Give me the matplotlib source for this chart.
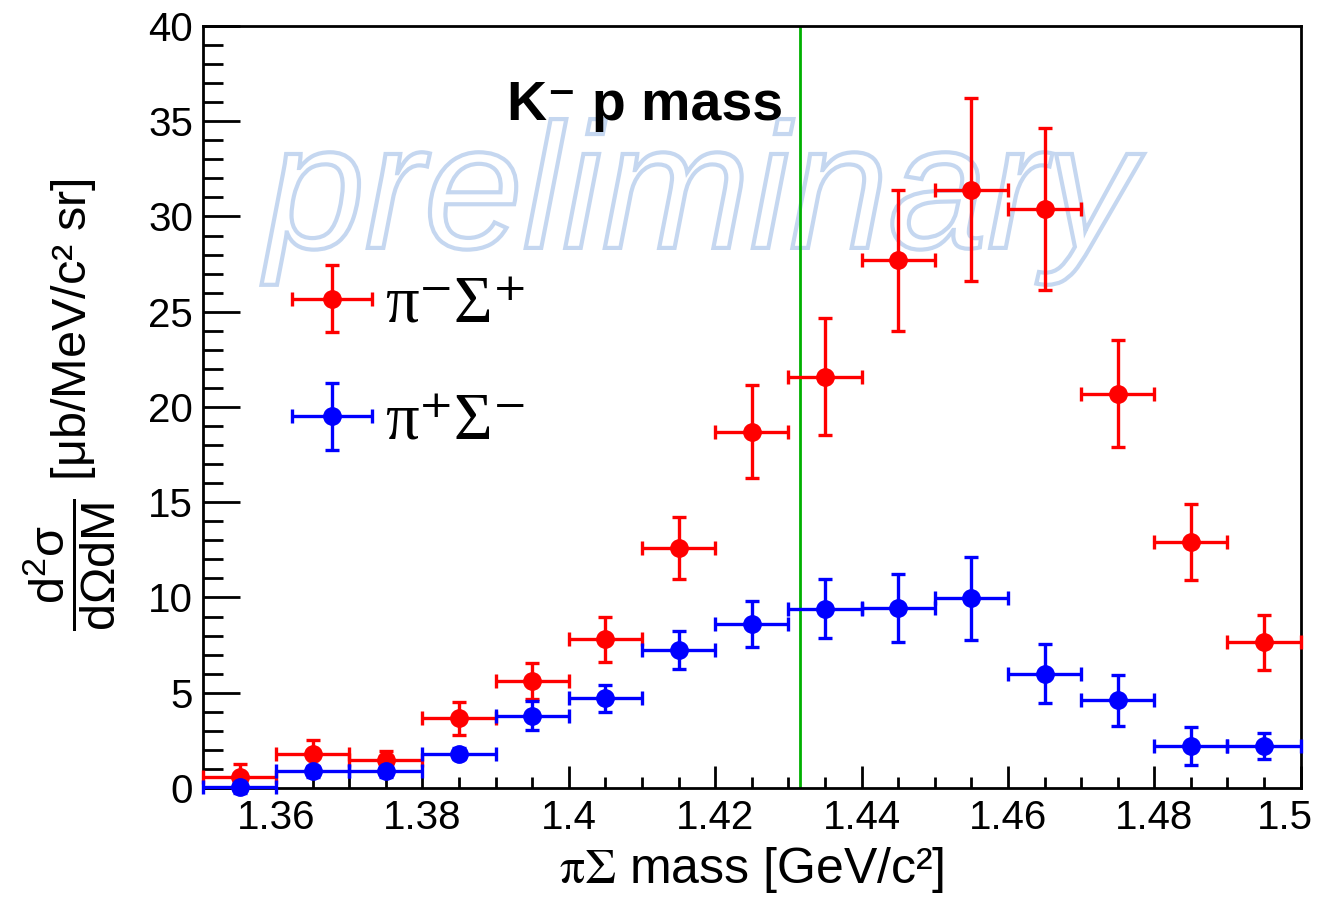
import matplotlib
matplotlib.use("Agg")
import matplotlib.pyplot as plt
import matplotlib.patheffects as pe
import matplotlib.transforms as mtransforms
from matplotlib.font_manager import FontProperties
from matplotlib.ticker import MultipleLocator, FuncFormatter
from matplotlib.container import ErrorbarContainer
from matplotlib.legend_handler import HandlerErrorbar

# pi-Sigma invariant mass bins (GeV/c^2), bin centres
mass = [1.355, 1.365, 1.375, 1.385, 1.395, 1.405, 1.415, 1.425,
        1.435, 1.445, 1.455, 1.465, 1.475, 1.485, 1.495]
bin_half_width = 0.005

# pi- Sigma+
pim_sigp = [0.6, 1.8, 1.45, 3.65, 5.6, 7.8, 12.6, 18.7,
            21.6, 27.7, 31.4, 30.4, 20.7, 12.9, 7.65]
pim_sigp_err = [0.65, 0.7, 0.5, 0.85, 0.95, 1.2, 1.65, 2.45,
                3.05, 3.7, 4.8, 4.25, 2.8, 2.0, 1.45]

# pi+ Sigma-
pip_sigm = [0.05, 0.88, 0.88, 1.8, 3.8, 4.7, 7.25, 8.6,
            9.4, 9.45, 9.95, 6.0, 4.6, 2.2, 2.2]
pip_sigm_err = [0.3, 0.3, 0.3, 0.3, 0.77, 0.73, 1.0, 1.2,
                1.55, 1.8, 2.2, 1.55, 1.35, 1.0, 0.7]

kp_threshold = 1.4316

FONT = "Liberation Sans"
plt.rcParams["mathtext.fontset"] = "custom"
plt.rcParams["mathtext.rm"] = FONT
plt.rcParams["mathtext.it"] = FONT + ":italic"
plt.rcParams["mathtext.bf"] = FONT + ":bold"

fig = plt.figure(figsize=(13.17, 9.02), dpi=100)
ax = fig.add_axes([0.1541, 0.1264, 0.8335, 0.8448])

# outlined watermark
ax.text(1.3586, 28.35, "preliminary", family=FONT, style="italic",
        fontsize=128, ha="left", va="baseline", zorder=0.5,
        path_effects=[pe.PathPatchEffect(facecolor="none", edgecolor="#c5d7f0",
                                         linewidth=3)])

ax.axvline(kp_threshold, color="#00b000", lw=2.0, zorder=2)

for y, err, col, lab in [(pim_sigp, pim_sigp_err, "#ff0000", "π⁻Σ⁺"),
                         (pip_sigm, pip_sigm_err, "#0000ff", "π⁺Σ⁻")]:
    cont = ax.errorbar(mass, y, xerr=bin_half_width, yerr=err, fmt="o",
                       color=col, ms=12.5, elinewidth=2.4, capsize=5,
                       capthick=2.4, label=lab, zorder=3)
    for art in cont.get_children():
        art.set_clip_on(False)

ax.text(1.4293, 35.07, "K⁻ p mass", family=[FONT, "DejaVu Sans"],
        fontweight="bold", fontsize=40, ha="right", va="baseline", zorder=4)

ax.set_xlim(1.35, 1.5)
ax.set_ylim(0, 40)

ax.xaxis.set_major_locator(MultipleLocator(0.02))
ax.xaxis.set_minor_locator(MultipleLocator(0.005))
ax.yaxis.set_major_locator(MultipleLocator(5))
ax.yaxis.set_minor_locator(MultipleLocator(1))
ax.xaxis.set_major_formatter(FuncFormatter(lambda v, p: "%g" % round(v, 3)))
ax.yaxis.set_major_formatter(FuncFormatter(lambda v, p: "%g" % v))

ax.tick_params(axis="both", which="both", direction="in", width=2,
               top=False, right=False, labelsize=29)
ax.tick_params(axis="x", which="major", length=16, pad=8)
ax.tick_params(axis="x", which="minor", length=8)
ax.tick_params(axis="y", which="major", length=26.5, pad=7)
ax.tick_params(axis="y", which="minor", length=14.5)
for lab in ax.get_xticklabels() + ax.get_yticklabels():
    lab.set_family(FONT)

for sp in ax.spines.values():
    sp.set_linewidth(2)

ax.set_xlabel(r"$\mathrm{\pi\Sigma}$ mass [GeV/c²]", family=FONT,
              fontsize=36, math_fontfamily="stix", va="center")
ax.xaxis.set_label_coords(0.5, -0.1076)

ax.set_ylabel(r"$\dfrac{\mathrm{d^{2}\sigma}}{\mathrm{d\Omega dM}}$ [μb/MeV/c² sr]",
              family=FONT, fontsize=35, va="center")
ax.yaxis.set_label_coords(-0.1212, 0.5026)

leg = ax.legend(loc="upper left", bbox_to_anchor=(0.081, 0.673),
                frameon=False, borderpad=0, borderaxespad=0,
                prop=FontProperties(family=["Liberation Serif", "DejaVu Serif"], size=48),
                handlelength=1.2, handletextpad=0.2, labelspacing=0.85,
                handler_map={ErrorbarContainer: HandlerErrorbar(xerr_size=0.6, yerr_size=0.5)})

# ROOT pulls the last x label back inside the frame
fig.canvas.draw()
shift = mtransforms.ScaledTranslation(-0.16, 0, fig.dpi_scale_trans)
for tl in ax.get_xticklabels():
    if tl.get_text() == "1.5":
        tl.set_transform(tl.get_transform() + shift)

fig.savefig("out.png", dpi=100)
